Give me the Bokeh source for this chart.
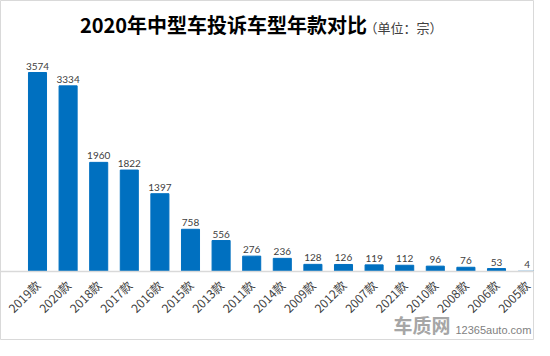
from math import pi
from bokeh.plotting import figure
from bokeh.models import Range1d, Label, ColumnDataSource, FixedTicker
from bokeh.core.properties import value
from bokeh.embed import file_html
from bokeh.resources import INLINE

categories = ["2019款", "2020款", "2018款", "2017款", "2016款", "2015款", "2013款", "2011款",
              "2014款", "2009款", "2012款", "2007款", "2021款", "2010款", "2008款", "2006款", "2005款"]
values = [3574, 3334, 1960, 1822, 1397, 758, 556, 276, 236, 128, 126, 119, 112, 96, 76, 53, 4]
title_text = "2020年中型车投诉车型年款对比"
unit_text = "（单位：宗）"

W, H = 534, 340
STEP = 30.6          # pixels per category
LEFT_PAD = 21.7      # pixels left of the first category slot
BASE = 271           # pixel row of the zero line
PX_PER_UNIT = 199 / 3574
XMIN = -0.5 - LEFT_PAD / STEP
XMAX = XMIN + W / STEP
YMIN = -(H - BASE) / PX_PER_UNIT
YMAX = BASE / PX_PER_UNIT

p = figure(width=W, height=H, output_backend="svg", toolbar_location=None,
           x_range=Range1d(XMIN, XMAX), y_range=Range1d(YMIN, YMAX),
           min_border_left=0, min_border_right=0, min_border_top=0, min_border_bottom=0)
p.background_fill_color = "white"
p.border_fill_color = "white"
p.outline_line_color = "#d9d9d9"
p.grid.visible = False
p.yaxis.visible = False

idx = list(range(len(categories)))
src = ColumnDataSource(dict(x=idx, top=values, lab=[str(v) for v in values]))
p.vbar(x="x", top="top", bottom=0, width=0.59, source=src, color="#0070C0", line_color="#0070C0")
p.text(x="x", y="top", text="lab", source=src, text_align="center", text_baseline="bottom",
       y_offset=-3, text_font_size="10px", text_color="#404040", text_font=value("Lato"))

ax = p.xaxis[0]
ax.fixed_location = 0
ax.ticker = FixedTicker(ticks=idx)
ax.major_label_overrides = {i: c for i, c in zip(idx, categories)}
ax.axis_line_color = "#d9d9d9"
ax.axis_line_width = 1.5
ax.major_tick_line_color = None
ax.minor_tick_line_color = None
ax.major_label_orientation = pi / 4
ax.major_label_text_font = "Noto Sans CJK SC"
ax.major_label_text_font_size = "12px"
ax.major_label_text_color = "#404040"
ax.major_label_standoff = 5

def dx(px):
    return XMIN + px / STEP
def dy(py):
    return (BASE - py) / PX_PER_UNIT

p.add_layout(Label(x=dx(223), y=dy(24), text=title_text,
                   text_align="center", text_baseline="middle", text_font="Noto Sans CJK SC",
                   text_font_style="bold", text_font_size="20px", text_color="#000000"))
p.add_layout(Label(x=dx(364), y=dy(27), text=unit_text,
                   text_align="left", text_baseline="middle", text_font="Noto Sans CJK SC",
                   text_font_size="13px", text_color="#404040"))
p.add_layout(Label(x=dx(393), y=dy(337), text="车质网",
                   text_align="left", text_baseline="bottom", text_font="Noto Sans CJK SC",
                   text_font_style="bold", text_font_size="19px", text_color="#a6a6a6"))
p.add_layout(Label(x=dx(455), y=dy(335), text="12365auto.com",
                   text_align="left", text_baseline="bottom", text_font="Liberation Sans",
                   text_font_size="11px", text_color="#7f7f7f"))

open("out.html", "w").write(file_html(p, INLINE))
